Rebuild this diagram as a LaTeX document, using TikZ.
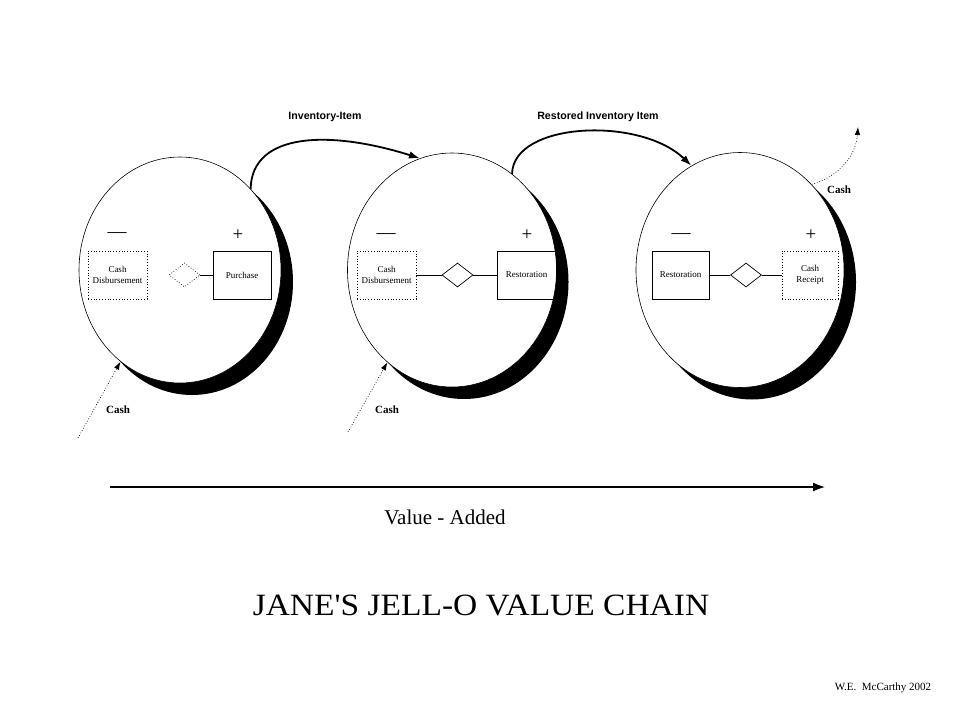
\documentclass[tikz,border=0pt]{standalone}
\usepackage{fontspec}
\setmainfont{Liberation Serif}
\newfontfamily\lsans{Liberation Sans}
\newfontfamily\plainserif{Liberation Serif}[Ligatures=TeXOff]
\usetikzlibrary{shapes.geometric,shadows,arrows.meta}
\tikzset{
  oval/.style={ellipse, draw=black, line width=0.6pt, fill=white, inner sep=0pt,
     drop shadow={shadow xshift=12pt, shadow yshift=-12pt, fill=black, opacity=1, draw=none}},
  evbox/.style={draw=black, line width=0.8pt, minimum width=59pt, minimum height=48pt,
     inner sep=0pt, align=center, font=\fontsize{9}{11}\selectfont},
  dotbox/.style={evbox, dotted},
  rel/.style={diamond, draw=black, line width=0.7pt, minimum width=31pt, minimum height=24pt, inner sep=0pt},
  sign/.style={inner sep=0pt, font=\fontsize{19}{19}\selectfont},
  flowlbl/.style={inner sep=0pt, font=\lsans\bfseries\fontsize{10.6}{12}\selectfont},
  cashlbl/.style={inner sep=0pt, font=\bfseries\fontsize{11}{12}\selectfont},
  bigflow/.style={line width=1.8pt, -{Latex[length=11pt,width=7.5pt]}},
  cashflow/.style={line width=0.7pt, dotted, -{Latex[length=8pt,width=5.5pt]}},
  link/.style={line width=0.7pt}
}
\begin{document}
\begin{tikzpicture}[x=1pt,y=-1pt]
\useasboundingbox[fill=white] (0,0) rectangle (960,720);

% ovals
\node[oval, minimum width=202pt, minimum height=226pt] (e1) at (180,270) {};
\node[oval, minimum width=209pt, minimum height=234pt] (e2) at (452,270) {};
\node[oval, minimum width=208pt, minimum height=235pt] (e3) at (740,270) {};

% oval 1 contents
\node[sign] (m1) at (117,235) {—};
\node[sign] (p1) at (238,235) {+};
\node[dotbox] (cd1) at (117.5,275) {Cash\\Disbursement};
\node[rel, dotted] (r1) at (184.5,275) {};
\node[evbox, minimum width=58pt] (pu1) at (242,275) {Purchase};
\draw[link] (r1) -- (pu1);

% oval 2 contents
\node[sign] (m2) at (386,236) {—};
\node[sign] (p2) at (527,235) {+};
\node[dotbox] (cd2) at (386.5,275) {Cash\\Disbursement};
\node[rel] (r2) at (457.5,275) {};
\node[evbox] (rs2) at (526.5,275) {Restoration};
\draw[link] (cd2) -- (r2);
\draw[link] (r2) -- (rs2);

% oval 3 contents
\node[sign] (m3) at (681,236) {—};
\node[sign] (p3) at (811,235) {+};
\node[evbox, minimum width=57pt] (rs3) at (680.5,275) {Restoration};
\node[rel] (r3) at (746,275) {};
\node[dotbox, minimum width=56pt] (cr3) at (810,275) {Cash\\Receipt};
\draw[link] (rs3) -- (r3);
\draw[link] (r3) -- (cr3);

% flows between ovals
\draw[bigflow] (e1.49) .. controls (252,132) and (330,130) .. (e2.106);
\node[flowlbl] (l1) at (325,117) {Inventory-Item};
\draw[bigflow] (e2.58) .. controls (513,122) and (640,116) .. (e3.115);
\node[flowlbl] (l2) at (598,117) {Restored Inventory Item};

% cash flows
\coordinate (c3end) at (858,127);
\draw[cashflow] (e3.50) .. controls (840,176) and (856,155) .. (c3end);
\node[cashlbl] (cl3) at (839,190) {Cash};

\coordinate (c1start) at (78,438);
\draw[cashflow] (c1start) -- (e1.237);
\node[cashlbl] (cl1) at (118,410) {Cash};

\coordinate (c2start) at (348,432);
\draw[cashflow] (c2start) -- (e2.235);
\node[cashlbl] (cl2) at (387,410) {Cash};

% value added arrow
\coordinate (va1) at (110,487);
\coordinate (va2) at (826,487);
\draw[line width=2.5pt, -{Latex[length=13pt,width=9pt]}] (va1) -- (va2);
\node[inner sep=0pt, font=\fontsize{21}{24}\selectfont] (vat) at (445,517) {Value - Added};

% title
\node[inner sep=0pt, font=\plainserif\fontsize{31}{34}\selectfont] (title) at (481,605) {\scalebox{1.08}[1]{JANE'S JELL-O VALUE CHAIN}};

\node[inner sep=0pt, font=\fontsize{11}{12}\selectfont] (auth) at (883,688) {W.E.\ \ McCarthy 2002};
\end{tikzpicture}
\end{document}
